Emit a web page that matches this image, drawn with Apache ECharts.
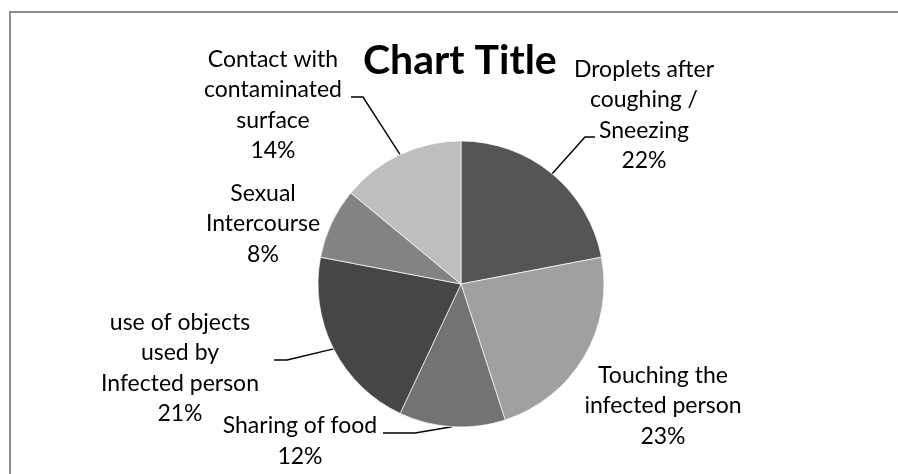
<!DOCTYPE html>
<html>
<head>
<meta charset="utf-8">
<script src="https://cdn.jsdelivr.net/npm/echarts@6/dist/echarts.min.js"></script>
<style>
html,body{margin:0;padding:0;background:#fff;}
#chart{width:898px;height:474px;}
</style>
</head>
<body>
<div id="chart"></div>
<script>
// ---- data ----
const categories = [
  'Droplets after\ncoughing /\nSneezing',
  'Touching the\ninfected person',
  'Sharing of food',
  'use of objects\nused by\nInfected person',
  'Sexual\nIntercourse',
  'Contact with\ncontaminated\nsurface'
];
const values = [22, 23, 12, 21, 8, 14];
const sliceColors = ['#555555', '#a0a0a0', '#737373', '#464646', '#838383', '#bebebe'];
const showLeader = [true, false, true, true, false, true];

// ---- label layout (style, not data) ----
const labelCenters = [[644, 115], [663, 406], [300, 441], [180, 368], [263, 224], [273, 105]];
const leaderElbows = [[585, 137], null, [415, 433], [287, 360], null, [363, 97]];
const leaderEnds = [[595, 137], null, [383, 433], [274, 360], null, [351, 97]];

const chart = echarts.init(document.getElementById('chart'), null, {renderer: 'canvas'});
const FONT = 'Lato, "Open Sans", sans-serif';

chart.setOption({
  backgroundColor: '#ffffff',
  animation: false,
  title: {
    text: 'Chart Title',
    left: 363,
    top: 40,
    padding: 0,
    textStyle: {fontFamily: FONT, fontWeight: 'bold', fontSize: 41, color: '#000'}
  },
  graphic: [{
    type: 'rect',
    shape: {x: 10, y: 12, width: 1000, height: 1000},
    style: {fill: 'none', stroke: '#8c8c8c', lineWidth: 2},
    silent: true
  }],
  series: [{
    type: 'pie',
    center: [461, 284],
    radius: 143,
    startAngle: 90,
    clockwise: true,
    avoidLabelOverlap: false,
    itemStyle: {borderColor: '#ffffff', borderWidth: 0.7},
    label: {
      show: true,
      position: 'outside',
      color: '#000',
      fontFamily: FONT,
      fontSize: 23,
      lineHeight: 30.5,
      formatter: function (p) {
        const lines = p.name.split('\n');
        lines.push(Math.round(p.percent) + '%');
        return lines.map(l => '{c|' + l + '}').join('\n');
      },
      rich: {c: {align: 'center', fontFamily: FONT, fontSize: 23, lineHeight: 30.5, color: '#000'}}
    },
    labelLine: {show: true, lineStyle: {color: '#000', width: 1.4}},
    labelLayout: function (params) {
      const i = params.dataIndex;
      const res = {x: labelCenters[i][0], y: labelCenters[i][1], align: 'center', verticalAlign: 'middle'};
      if (showLeader[i] && params.labelLinePoints) {
        res.labelLinePoints = [params.labelLinePoints[0], leaderElbows[i], leaderEnds[i]];
      }
      return res;
    },
    data: categories.map((c, i) => ({
      name: c,
      value: values[i],
      itemStyle: {color: sliceColors[i]},
      labelLine: {show: showLeader[i]}
    }))
  }]
});
</script>
</body>
</html>
